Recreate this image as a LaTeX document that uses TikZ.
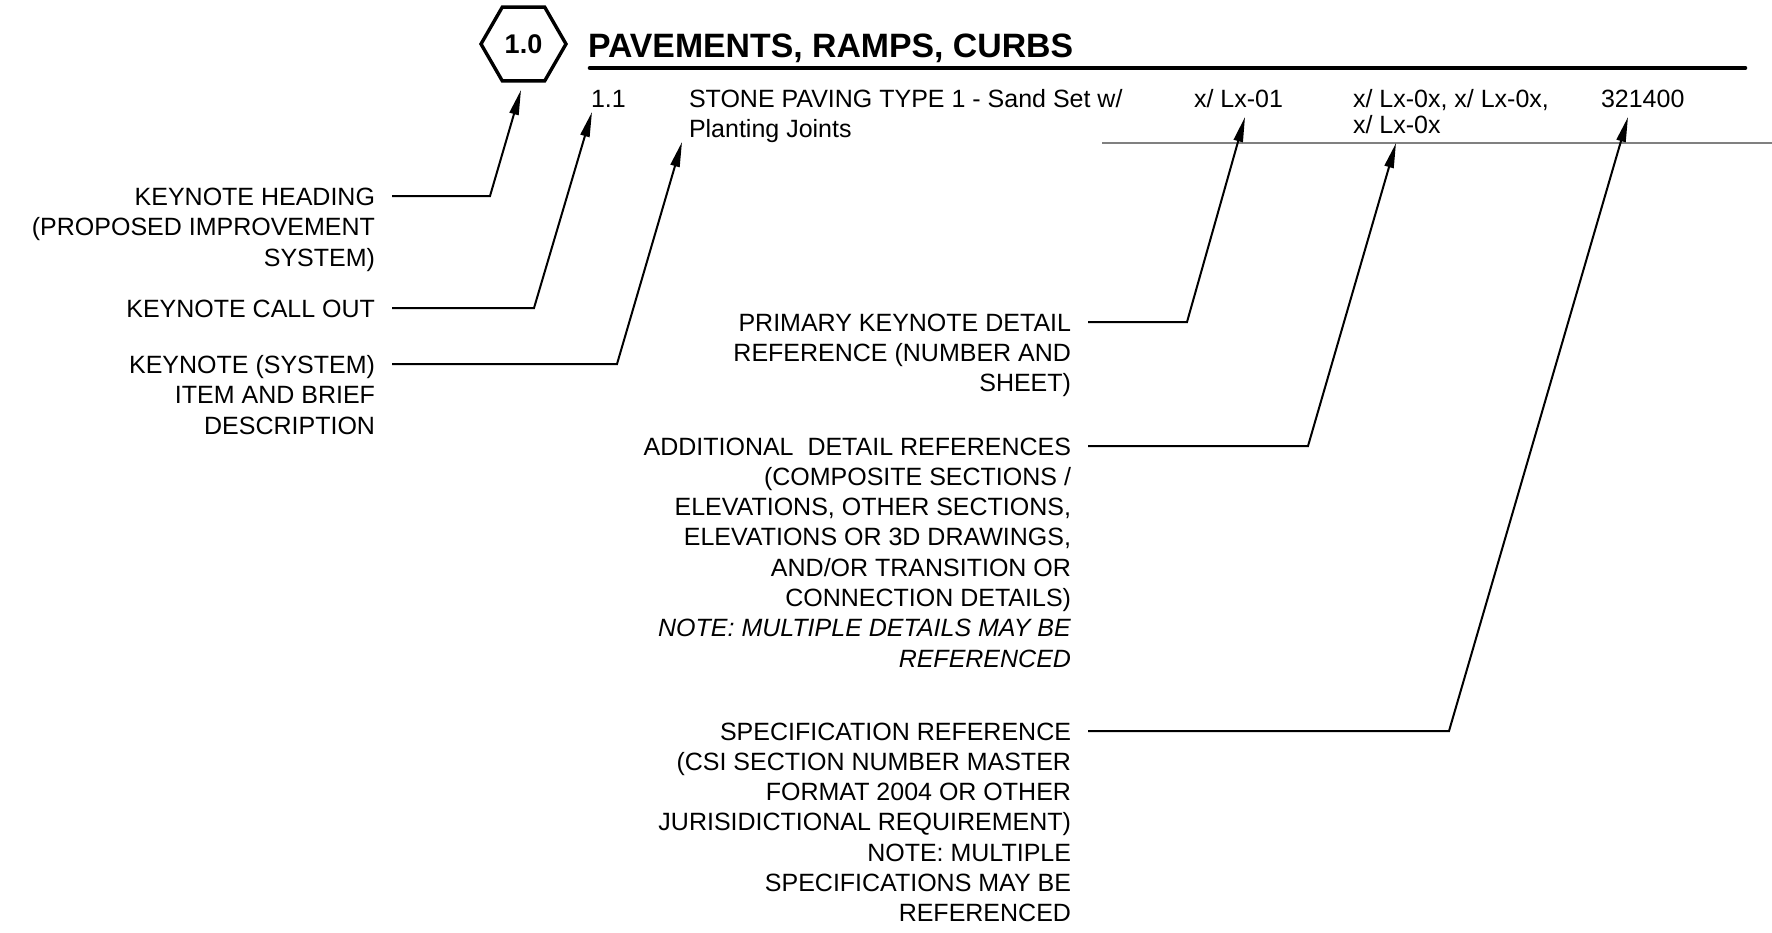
\documentclass[tikz,border=0pt]{standalone}
\usepackage{fontspec}
\setmainfont{Liberation Sans}
\usetikzlibrary{shapes.geometric,arrows.meta}
\tikzset{
  every node/.style={inner sep=0pt, outer sep=0pt},
  body/.style={font=\fontsize{12.5pt}{15.25pt}\selectfont},
  lbl/.style={body, anchor=base east},
  midlbl/.style={anchor=base east, font=\fontsize{12.5pt}{15.15pt}\selectfont},
  rowtxt/.style={anchor=base west},
  hexa/.style={regular polygon, regular polygon sides=6, minimum size=42.5pt,
    draw, line width=1.7pt, font=\fontsize{13.5pt}{15pt}\selectfont\bfseries},
  titletxt/.style={anchor=base west, font=\fontsize{16.9pt}{20pt}\selectfont\bfseries},
  rulestyle/.style={line width=2.3pt, line cap=round},
  grayrule/.style={line width=0.75pt, draw=black!50},
  conn/.style={line width=1pt, -{Triangle[length=12.5pt,width=4.6pt]}},
}
\begin{document}
\begin{tikzpicture}[x=0.5pt,y=-0.5pt]
\useasboundingbox (0,0) rectangle (1772,932);

% heading
\node[hexa] (hex) at (523.5,44) {1.0};
\node[titletxt] (ttl) at (588,57) {PAVEMENTS, RAMPS, CURBS};
\coordinate (r1) at (590,68);
\coordinate (r2) at (1745,68);
\draw[rulestyle] (r1) -- (r2);
\coordinate (g1) at (1102,143);
\coordinate (g2) at (1772,143);
\draw[grayrule] (g1) -- (g2);

% keynote row
\node[body, rowtxt] (num) at (591,107) {1.1};
\node[rowtxt, font=\fontsize{12.5pt}{15pt}\selectfont] (desc) at (689,107)
  {\begin{tabular}[t]{@{}l@{}}STONE PAVING TYPE 1 - Sand Set w/\\Planting Joints\end{tabular}};
\node[body, rowtxt] (pref) at (1194,107) {x/ Lx-01};
\node[rowtxt, font=\fontsize{12.5pt}{13pt}\selectfont] (aref) at (1353,107)
  {\begin{tabular}[t]{@{}l@{}}x/ Lx-0x, x/ Lx-0x,\\x/ Lx-0x\end{tabular}};
\node[body, rowtxt] (spec) at (1601,107) {321400};

% left labels
\node[lbl] (kh) at (375,205)
  {\begin{tabular}[t]{@{}r@{}}KEYNOTE HEADING\\(PROPOSED IMPROVEMENT\\SYSTEM)\end{tabular}};
\node[lbl] (kc) at (375,317) {KEYNOTE CALL OUT};
\node[lbl] (ks) at (375,373)
  {\begin{tabular}[t]{@{}r@{}}KEYNOTE (SYSTEM)\\ITEM AND BRIEF\\DESCRIPTION\end{tabular}};

% middle labels
\node[midlbl] (pk) at (1071,331)
  {\begin{tabular}[t]{@{}r@{}}PRIMARY KEYNOTE DETAIL\\REFERENCE (NUMBER AND\\SHEET)\end{tabular}};
\node[midlbl] (ad) at (1071,455)
  {\begin{tabular}[t]{@{}r@{}}ADDITIONAL\ \ DETAIL REFERENCES\\(COMPOSITE SECTIONS /\\ELEVATIONS, OTHER SECTIONS,\\ELEVATIONS OR 3D DRAWINGS,\\AND/OR TRANSITION OR\\CONNECTION DETAILS)\\\textit{NOTE: MULTIPLE DETAILS MAY BE}\\\textit{REFERENCED}\end{tabular}};
\node[midlbl] (sr) at (1071,740)
  {\begin{tabular}[t]{@{}r@{}}SPECIFICATION REFERENCE\\(CSI SECTION NUMBER MASTER\\FORMAT 2004 OR OTHER\\JURISIDICTIONAL REQUIREMENT)\\NOTE: MULTIPLE\\SPECIFICATIONS MAY BE\\REFERENCED\end{tabular}};

% elbows and tips
\coordinate (e1) at (490,196);  \coordinate (t1) at (521,90);
\coordinate (e2) at (534,308);  \coordinate (t2) at (592,112);
\coordinate (e3) at (617,364);  \coordinate (t3) at (682,142);
\coordinate (e4) at (1187,322); \coordinate (t4) at (1245,117);
\coordinate (e5) at (1308,446); \coordinate (t5) at (1396,143);
\coordinate (e6) at (1449,731); \coordinate (t6) at (1628,117);

\draw[conn] ([xshift=8.5pt,yshift=4.5pt]kh.base east) -- (e1) -- (t1);
\draw[conn] ([xshift=8.5pt,yshift=4.5pt]kc.base east) -- (e2) -- (t2);
\draw[conn] ([xshift=8.5pt,yshift=4.5pt]ks.base east) -- (e3) -- (t3);
\draw[conn] ([xshift=8.5pt,yshift=4.5pt]pk.base east) -- (e4) -- (t4);
\draw[conn] ([xshift=8.5pt,yshift=4.5pt]ad.base east) -- (e5) -- (t5);
\draw[conn] ([xshift=8.5pt,yshift=4.5pt]sr.base east) -- (e6) -- (t6);
\end{tikzpicture}
\end{document}
